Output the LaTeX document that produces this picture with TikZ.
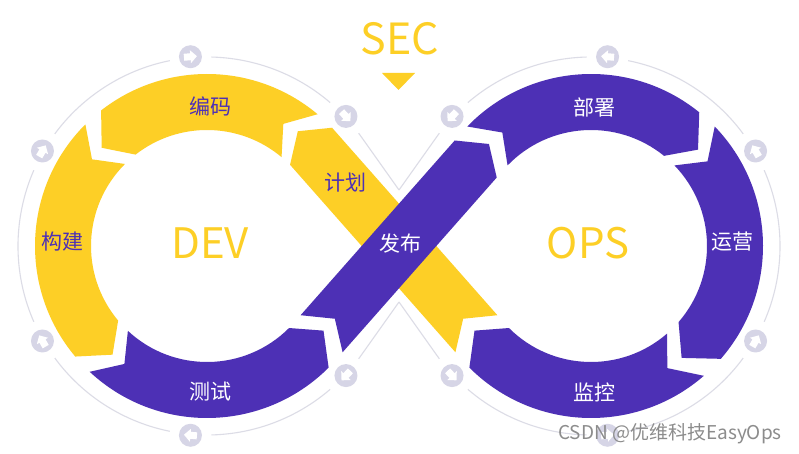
\documentclass[tikz,border=0pt]{standalone}
\usepackage{fontspec}
\newfontfamily\cjk{Noto Sans CJK SC}
\definecolor{devyellow}{RGB}{253,207,38}
\definecolor{opspurple}{RGB}{77,48,181}
\definecolor{ringgray}{RGB}{220,220,230}
\definecolor{icongray}{RGB}{214,213,230}
\definecolor{markgray}{RGB}{140,140,140}
\newcommand\ringseg[5]{%
  \fill[#1] (#2:172) -- (#3:144) -- (#2:116) arc[start angle=#2, end angle=#4, radius=116]
    -- (#5:144) -- (#4:172) arc[start angle=#4, end angle=#2, radius=172] -- cycle;}
\begin{document}
\begin{tikzpicture}[x=1pt,y=1pt,
  lbl/.style={font=\cjk\fontsize{21}{21}\selectfont},
  big/.style={font=\cjk\fontsize{42}{42}\selectfont, text=devyellow}]
\useasboundingbox[fill=white] (0,0) rectangle (799,454);
\coordinate (L) at (207,208);
\coordinate (R) at (591,208);
\draw[ringgray, line width=1.1pt, shift={(L)}] (192,56) -- (35.4:189)
  arc[start angle=35.4, end angle=324.6, radius=189] -- (192,-56);
\draw[ringgray, line width=1.1pt, shift={(R)}] (-192,56) -- (144.6:189)
  arc[start angle=144.6, end angle=-144.6, radius=189] -- (-192,-56);
\foreach \a in {95,150,210,265,317,43}
  \fill[white, shift={(L)}] (\a:190) circle[radius=21];
\foreach \a in {85,30,330,275,137,223}
  \fill[white, shift={(R)}] (\a:190) circle[radius=21];
\fill[devyellow, shift={(R)}, shift={(221.41:144)}, rotate=131.41]
  (10,-28) -- (30,0) -- (10,28) -- (260,28) -- (280,0) -- (260,-28) -- cycle;
\fill[opspurple, shift={(L)}, shift={(-41.41:144)}, rotate=48.59]
  (10,-28) -- (30,0) -- (10,28) -- (243,28) -- (263,0) -- (243,-28) -- cycle;
\begin{scope}[shift={(L)}]
\ringseg{devyellow}{50}{58}{128}{137}
\ringseg{devyellow}{135}{143}{220}{229}
\ringseg{opspurple}{227}{235}{315}{324}
\end{scope}
\begin{scope}[shift={(R)}]
\ringseg{opspurple}{136}{128}{51}{42}
\ringseg{opspurple}{44}{36}{-41}{-51}
\ringseg{opspurple}{-49}{-58}{-135}{-144}
\end{scope}
\foreach \a in {95,150,210,265,317,43} {
  \fill[icongray, shift={(L)}] (\a:190) circle[radius=11.5];
  \fill[white, shift={(L)}, shift={(\a:190)}, rotate=\a-90]
    (-6.5,-3.5) -- (0,-3.5) -- (0,-6.5) -- (6.5,0) -- (0,6.5) -- (0,3.5) -- (-6.5,3.5) -- cycle;
}
\foreach \a in {85,30,330,275,137,223} {
  \fill[icongray, shift={(R)}] (\a:190) circle[radius=11.5];
  \fill[white, shift={(R)}, shift={(\a:190)}, rotate=\a+90]
    (-6.5,-3.5) -- (0,-3.5) -- (0,-6.5) -- (6.5,0) -- (0,6.5) -- (0,3.5) -- (-6.5,3.5) -- cycle;
}
\node[big, font=\cjk\fontsize{43}{43}\selectfont] (sec) at (400,415) {SEC};
\fill[devyellow] (382,381) -- (415,381) -- (398.5,364) -- cycle;
\node[big] (dev) at (210,211) {DEV};
\node[big] (ops) at (588,211) {OPS};
\node[lbl, text=opspurple] (code) at (210,348) {编码};
\node[lbl, text=opspurple] (build) at (62,212) {构建};
\node[lbl, text=opspurple] (plan) at (345,271) {计划};
\node[lbl, text=white] (test) at (210,62) {测试};
\node[lbl, text=white] (release) at (400,210) {发布};
\node[lbl, text=white] (deploy) at (594,347) {部署};
\node[lbl, text=white] (operate) at (732,212) {运营};
\node[lbl, text=white] (monitor) at (594,62) {监控};
\node[font=\cjk\fontsize{19}{19}\selectfont, text=markgray] (mark) at (670,20) {CSDN @优维科技EasyOps};
\end{tikzpicture}
\end{document}
